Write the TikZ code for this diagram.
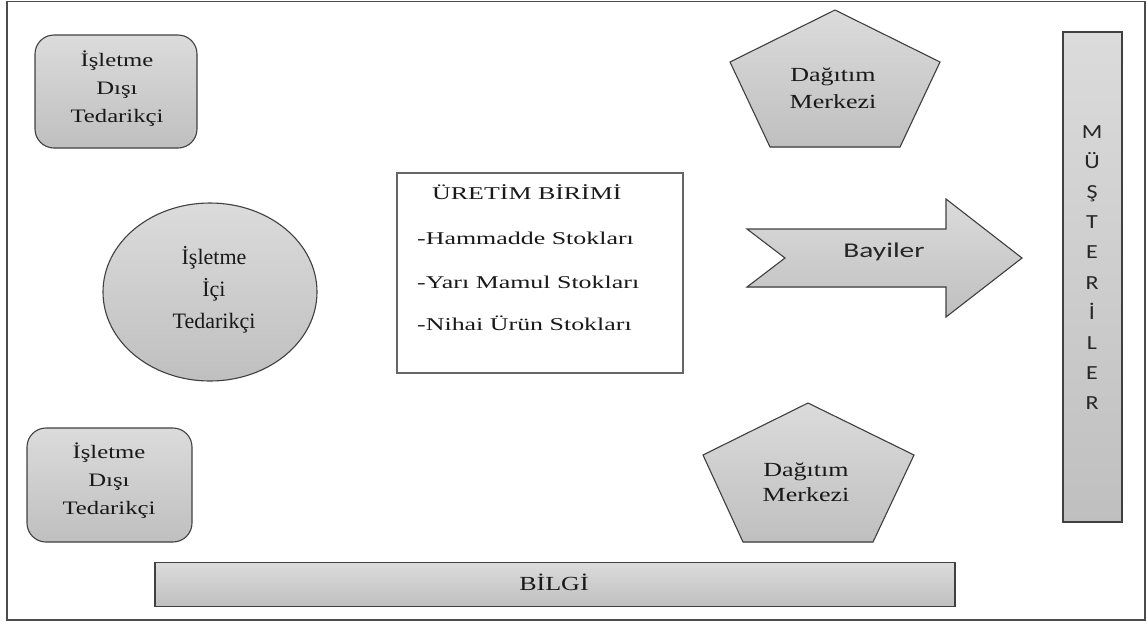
\documentclass[tikz,border=0pt]{standalone}
\usepackage{fontspec}
\usepackage{graphicx}
\setmainfont{Liberation Serif}
\newfontfamily\labelsans{Carlito}
\usetikzlibrary{shapes.geometric}

% horizontally widened text
\newcommand{\wide}[2]{\scalebox{#1}[1]{#2}}
\newcommand{\bw}[1]{\wide{1.3}{#1}}
\newcommand{\pw}[1]{\wide{1.44}{#1}}

\tikzset{
  shaded/.style={draw=black!75, line width=1.1pt, top color=gray!28, bottom color=gray!50},
  serifbox/.style={font=\fontsize{19}{28}\selectfont, align=center, text=black!90, inner sep=0pt},
  prodtext/.style={font=\fontsize{18}{22}\selectfont, anchor=base west, text=black!90, inner sep=0pt},
  sanstext/.style={font=\labelsans\fontsize{20}{24}\selectfont, text=black!85, inner sep=0pt},
}

\begin{document}
\begin{tikzpicture}[x=1pt, y=-1pt]
  \useasboundingbox (0,0) rectangle (1147,622);

  % outer frame
  \draw[black!70, line width=1.8pt] (7,1.5) rectangle (1145,620);

  % external suppliers (rounded boxes)
  \node[shaded, rounded corners=19pt, minimum width=162pt, minimum height=113pt] (extTop) at (116,91.5) {};
  \node[serifbox] (extTopText) at (117,89) {\bw{İşletme}\\\bw{Dışı}\\\bw{Tedarikçi}};

  \node[shaded, rounded corners=19pt, minimum width=165pt, minimum height=114pt] (extBot) at (109.5,485) {};
  \node[serifbox] (extBotText) at (109,481) {\bw{İşletme}\\\bw{Dışı}\\\bw{Tedarikçi}};

  % internal supplier (ellipse)
  \node[shaded, ellipse, minimum width=214pt, minimum height=178pt, inner sep=0pt] (internal) at (210,292) {};
  \node[font=\fontsize{22}{32}\selectfont, align=center, text=black!90, inner sep=0pt] (internalText) at (214,290) {İşletme\\İçi\\Tedarikçi};

  % production unit
  \node[draw=black!60, line width=1.4pt, fill=white, minimum width=286pt, minimum height=200pt, inner sep=0pt] (production) at (540,273) {};
  \node[prodtext] (prodTitle) at (432,199) {\pw{ÜRETİM BİRİMİ}};
  \node[prodtext] (stockRaw) at (417,244) {\pw{-Hammadde Stokları}};
  \node[prodtext] (stockSemi) at (417,288) {\pw{-Yarı Mamul Stokları}};
  \node[prodtext] (stockFinal) at (417,330) {\pw{-Nihai Ürün Stokları}};

  % distribution centres (pentagons)
  \filldraw[shaded] (835,10) -- (940,62) -- (900,147) -- (770,147) -- (730,62) -- cycle;
  \node[serifbox, font=\fontsize{20}{27}\selectfont] (distTop) at (833,88) {\bw{Dağıtım}\\\bw{Merkezi}};

  \filldraw[shaded] (808,403) -- (914,455) -- (873,542) -- (743,542) -- (703,455) -- cycle;
  \node[serifbox, font=\fontsize{20}{25}\selectfont] (distBot) at (806,482) {\bw{Dağıtım}\\\bw{Merkezi}};

  % dealers (notched arrow)
  \filldraw[shaded] (747,229) -- (946,229) -- (946,199) -- (1022,258) -- (946,317)
    -- (946,287) -- (747,287) -- (785,258) -- cycle;
  \node[sanstext, font=\labelsans\fontsize{21}{24}\selectfont] (dealers) at (884,252) {\wide{1.4}{Bayiler}};

  % customers (vertical bar)
  \node[shaded, minimum width=59pt, minimum height=490pt, inner sep=0pt] (customers) at (1092.5,277) {};
  \foreach \ch [count=\i from 0] in {M,Ü,Ş,T,E,R,İ,L,E,R}
    \node[sanstext, anchor=base] (cust\i) at (1092,{138.5+30.1*\i}) {\wide{1.2}{\ch}};

  % information bar
  \node[shaded, minimum width=800pt, minimum height=44pt, inner sep=0pt] (info) at (555,584.5) {};
  \node[serifbox, font=\fontsize{20}{24}\selectfont] (infoText) at (554,582) {\bw{BİLGİ}};
\end{tikzpicture}
\end{document}
